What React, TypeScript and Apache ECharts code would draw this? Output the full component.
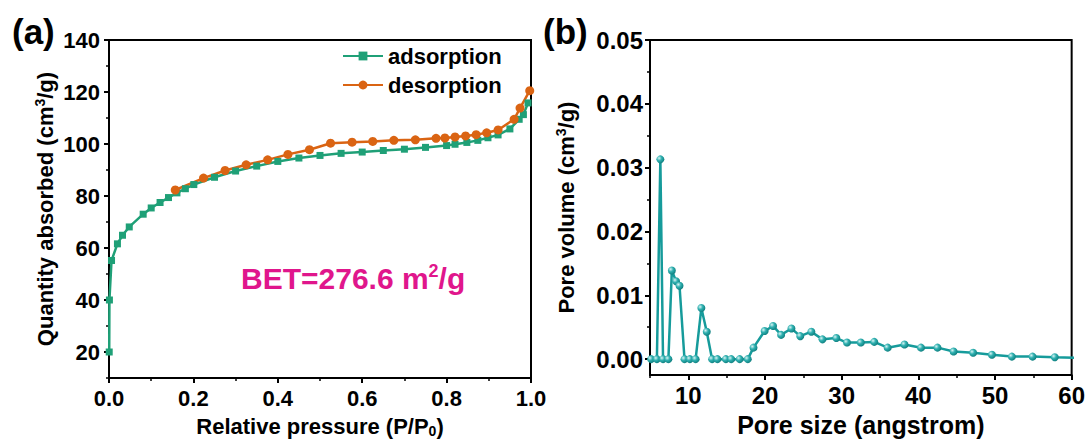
import React, { useEffect, useRef } from "react";
import * as echarts from "echarts";

const FONT = '"Liberation Sans", Arial, Helvetica, sans-serif';

// Panel (a): N2 isotherm
const adsX = [0.0005, 0.001, 0.006, 0.02, 0.032, 0.048, 0.081, 0.1, 0.121, 0.141, 0.161, 0.181, 0.201, 0.25, 0.3, 0.35, 0.4, 0.45, 0.5, 0.55, 0.6, 0.65, 0.7, 0.75, 0.8, 0.82, 0.848, 0.874, 0.898, 0.922, 0.95, 0.972, 0.982, 0.993];
const adsY = [20.0, 40.0, 55.2, 61.6, 64.9, 68.1, 73.0, 75.4, 77.5, 79.4, 81.2, 82.8, 84.4, 87.2, 89.6, 91.5, 93.3, 94.6, 95.6, 96.4, 96.9, 97.5, 98.0, 98.7, 99.4, 99.9, 100.6, 101.4, 102.4, 103.5, 105.8, 109.5, 111.3, 115.8];
const desX = [0.157, 0.224, 0.275, 0.325, 0.376, 0.424, 0.475, 0.525, 0.576, 0.625, 0.675, 0.726, 0.775, 0.796, 0.82, 0.845, 0.87, 0.895, 0.922, 0.96, 0.974, 0.997];
const desY = [82.3, 86.9, 89.8, 92.0, 93.9, 96.0, 97.8, 100.3, 100.7, 101.0, 101.4, 101.6, 102.2, 102.3, 102.7, 103.1, 103.6, 104.3, 105.4, 109.5, 113.8, 120.5];

// Panel (b): pore size distribution
const poreX = [5.15, 5.9, 6.35, 6.7, 7.4, 7.85, 8.4, 8.85, 9.5, 10.2, 10.95, 11.7, 12.4, 13.1, 13.8, 14.9, 15.6, 16.7, 17.75, 18.5, 19.95, 21.05, 22.1, 23.45, 24.6, 26.05, 27.5, 29.3, 30.7, 32.5, 34.25, 36.0, 38.2, 40.35, 42.5, 44.6, 47.15, 49.6, 52.2, 54.9, 57.8, 61];
const poreY = [0, 0, 0.0313, 0, 0, 0.0139, 0.0122, 0.0115, 0, 0, 0, 0.008, 0.0043, 0, 0, 0, 0, 0, 0, 0.0018, 0.0044, 0.0052, 0.0038, 0.0048, 0.0036, 0.0043, 0.0031, 0.0033, 0.0026, 0.0026, 0.0027, 0.0018, 0.0023, 0.0018, 0.0018, 0.0012, 0.001, 0.0007, 0.0004, 0.0004, 0.0003, 0.0002];

// Tick values
const aXMin = 0, aXMax = 1, aXStep = 0.2;
const aYMin = 10, aYMax = 140;
const aYMajor = [20, 40, 60, 80, 100, 120, 140];
const aYMinor = [10, 30, 50, 70, 90, 110, 130];
const bXMin = 5, bXMax = 60;
const bXMajor = [10, 20, 30, 40, 50, 60];
const bXMinor = [5, 15, 25, 35, 45, 55];
const bYMin = -0.0025, bYMax = 0.05;
const bYMajor = [0, 0.01, 0.02, 0.03, 0.04, 0.05];
const bYMinor = [0.005, 0.015, 0.025, 0.035, 0.045];

const GREEN = "#1FA077";
const ORANGE = "#DA6413";
const TEAL = "#169B9B";
const MAGENTA = "#E0168C";

const labelStyle = (size: number) => ({
  fontFamily: FONT,
  fontWeight: "bold" as const,
  fontSize: size,
  color: "#000",
});

const axisLine = { show: true, onZero: false, lineStyle: { color: "#000", width: 2 } };
const hiddenLine = { show: false, onZero: false };

export default function App() {
  const ref = useRef<HTMLDivElement>(null);
  useEffect(() => {
    if (!ref.current) return;
    const chart = echarts.init(ref.current, undefined, { renderer: "svg" });
    const zip = (xs: number[], ys: number[]) => xs.map((x, i) => [x, ys[i]]);
    const ball = {
      type: "radial",
      x: 0.35,
      y: 0.35,
      r: 0.7,
      colorStops: [
        { offset: 0, color: "#d8f4f4" },
        { offset: 0.45, color: "#2fb0b0" },
        { offset: 1, color: "#0d7d7d" },
      ],
    };
    const option: any = {
      animation: false,
      backgroundColor: "#fff",
      title: [
        { text: "(a)", left: 12, top: 14, padding: 0, textStyle: labelStyle(35) },
        { text: "(b)", left: 543, top: 14, padding: 0, textStyle: labelStyle(35) },
        {
          text: "{a|BET=276.6 m}{s|2}{a|/g}",
          left: 241,
          top: 262,
          padding: 0,
          textStyle: {
            rich: {
              a: { fontFamily: FONT, fontWeight: "bold", fontSize: 30, lineHeight: 32, color: MAGENTA },
              s: { fontFamily: FONT, fontWeight: "bold", fontSize: 18, lineHeight: 18, verticalAlign: "top", color: MAGENTA },
            },
          },
        },
      ],
      legend: {
        data: ["adsorption", "desorption"],
        orient: "vertical",
        left: 342,
        top: 45,
        padding: 0,
        itemWidth: 40,
        itemHeight: 11,
        itemGap: 7,
        textStyle: { ...labelStyle(22), lineHeight: 22 },
      },
      grid: [
        { left: 109, top: 40, width: 422, height: 340, show: true, borderColor: "#000", borderWidth: 2, backgroundColor: "transparent" },
        { left: 650, top: 40, width: 424, height: 340, show: true, borderColor: "#000", borderWidth: 2, backgroundColor: "transparent" },
      ],
      xAxis: [
        {
          gridIndex: 0,
          type: "value",
          min: aXMin,
          max: aXMax,
          interval: aXStep,
          axisLine,
          axisTick: { show: true, length: 5, lineStyle: { color: "#000", width: 2 } },
          minorTick: { show: true, splitNumber: 2, length: 3, lineStyle: { color: "#000", width: 1.5 } },
          splitLine: { show: false },
          minorSplitLine: { show: false },
          axisLabel: { ...labelStyle(22), margin: 9, formatter: (v: number) => v.toFixed(1) },
          name: "{a|Relative pressure (P/P}{s|0}{a|)}",
          nameLocation: "middle",
          nameGap: 36,
          nameTextStyle: {
            rich: {
              a: { ...labelStyle(22), lineHeight: 24 },
              s: { ...labelStyle(14), lineHeight: 14, verticalAlign: "bottom" },
            },
          },
        },
        {
          gridIndex: 1,
          type: "value",
          min: bXMin,
          max: bXMax,
          axisLine,
          axisTick: { show: true, length: 5, customValues: bXMajor, lineStyle: { color: "#000", width: 2 } },
          splitLine: { show: false },
          axisLabel: { ...labelStyle(24), margin: 8, customValues: bXMajor },
          name: "Pore size (angstrom)",
          nameLocation: "middle",
          nameGap: 36,
          nameTextStyle: { ...labelStyle(25), lineHeight: 26 },
        },
        {
          gridIndex: 1,
          type: "value",
          min: bXMin,
          max: bXMax,
          position: "bottom",
          axisLine: hiddenLine,
          axisTick: { show: true, length: 3, customValues: bXMinor, lineStyle: { color: "#000", width: 1.5 } },
          axisLabel: { show: false },
          splitLine: { show: false },
        },
      ],
      yAxis: [
        {
          gridIndex: 0,
          type: "value",
          min: aYMin,
          max: aYMax,
          axisLine,
          axisTick: { show: true, length: 5, customValues: aYMajor, lineStyle: { color: "#000", width: 2 } },
          splitLine: { show: false },
          axisLabel: { ...labelStyle(22), margin: 9, customValues: aYMajor },
          name: "{a|Quantity absorbed (cm}{s|3}{a|/g)}",
          nameLocation: "middle",
          nameGap: 52,
          nameTextStyle: {
            rich: {
              a: { ...labelStyle(22), lineHeight: 24 },
              s: { ...labelStyle(14), lineHeight: 14, verticalAlign: "top" },
            },
          },
        },
        {
          gridIndex: 0,
          type: "value",
          min: aYMin,
          max: aYMax,
          position: "left",
          axisLine: hiddenLine,
          axisTick: { show: true, length: 3, customValues: aYMinor, lineStyle: { color: "#000", width: 1.5 } },
          axisLabel: { show: false },
          splitLine: { show: false },
        },
        {
          gridIndex: 1,
          type: "value",
          min: bYMin,
          max: bYMax,
          axisLine,
          axisTick: { show: true, length: 5, customValues: bYMajor, lineStyle: { color: "#000", width: 2 } },
          splitLine: { show: false },
          axisLabel: { ...labelStyle(24), margin: 7, customValues: bYMajor, formatter: (v: number) => v.toFixed(2) },
          name: "{a|Pore volume (cm}{s|3}{a|/g)}",
          nameLocation: "middle",
          nameGap: 72,
          nameTextStyle: {
            rich: {
              a: { ...labelStyle(22), lineHeight: 24 },
              s: { ...labelStyle(14), lineHeight: 14, verticalAlign: "top" },
            },
          },
        },
        {
          gridIndex: 1,
          type: "value",
          min: bYMin,
          max: bYMax,
          position: "left",
          axisLine: hiddenLine,
          axisTick: { show: true, length: 3, customValues: bYMinor, lineStyle: { color: "#000", width: 1.5 } },
          axisLabel: { show: false },
          splitLine: { show: false },
        },
      ],
      series: [
        {
          name: "adsorption",
          type: "line",
          xAxisIndex: 0,
          yAxisIndex: 0,
          data: zip(adsX, adsY),
          symbol: "rect",
          symbolSize: 7,
          lineStyle: { color: GREEN, width: 2.5 },
          itemStyle: { color: GREEN },
          clip: true,
        },
        {
          name: "desorption",
          type: "line",
          xAxisIndex: 0,
          yAxisIndex: 0,
          data: zip(desX, desY),
          symbol: "circle",
          symbolSize: 9,
          lineStyle: { color: ORANGE, width: 2.5 },
          itemStyle: { color: ORANGE },
          clip: true,
        },
        {
          name: "pore",
          type: "line",
          xAxisIndex: 1,
          yAxisIndex: 2,
          data: zip(poreX, poreY),
          symbol: "circle",
          symbolSize: 8,
          lineStyle: { color: TEAL, width: 2.5 },
          itemStyle: { color: ball },
          clip: true,
        },
      ],
    };
    chart.setOption(option);
    return () => chart.dispose();
  }, []);
  return (
    <div
      ref={ref}
      style={{ position: "fixed", left: 0, top: 0, width: 1088, height: 443, background: "#fff" }}
    />
  );
}
